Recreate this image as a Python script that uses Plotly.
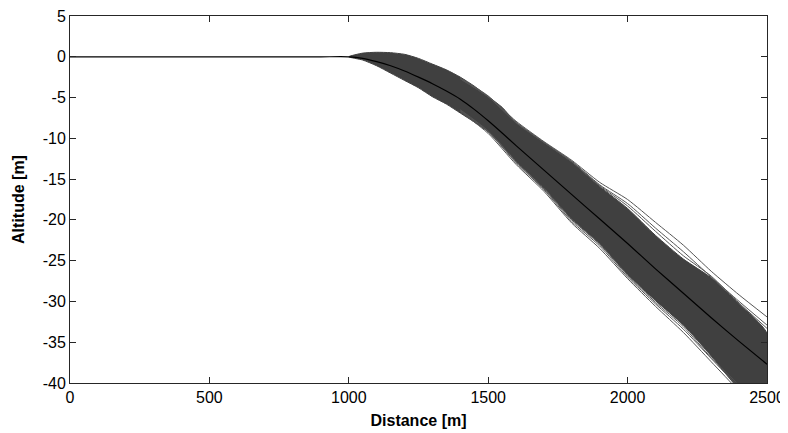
import plotly.graph_objects as go

# ---- data ----
distance = [0, 500, 900, 1000, 1050, 1100, 1150, 1200, 1250, 1300, 1350, 1400, 1450, 1500,
            1550, 1600, 1700, 1800, 1900, 2000, 2100, 2200, 2300, 2400, 2500]
mean_alt = [0, 0, 0, 0, -0.2, -0.6, -1.1, -1.75, -2.5, -3.3, -4.2, -5.2, -6.45, -7.85,
            -9.35, -10.9, -13.9, -16.9, -19.9, -22.9, -26.0, -29.0, -32.0, -34.9, -37.7]

band_dist = [1000, 1050, 1100, 1150, 1200, 1250, 1300, 1350, 1400, 1450, 1500,
             1550, 1600, 1700, 1800, 1900, 2000, 2100, 2200, 2300, 2400, 2500]
upper_alt = [0, 0.45, 0.55, 0.5, 0.3, -0.2, -0.9, -1.6, -2.5, -3.6, -4.9,
             -6.2, -8.1, -10.5, -12.9, -15.9, -18.6, -21.9, -24.8, -27.1, -30.3, -33.9]
lower_alt = [0, -0.4, -1.1, -2.0, -2.9, -3.8, -4.9, -5.8, -6.9, -8.0, -9.2,
             -10.9, -12.8, -16.1, -19.9, -22.9, -26.7, -29.9, -32.9, -36.7, -40.8, -44.0]

out_dist = [1400, 1500, 1600, 1700, 1800, 1900, 2000, 2100, 2200, 2300, 2400, 2500]
upper_out_a = [-2.6, -4.8, -7.9, -10.4, -12.7, -15.4, -17.5, -20.3, -23.1, -26.3, -29.2, -31.9]
upper_out_b = [-2.7, -4.9, -8.0, -10.5, -12.8, -15.7, -18.0, -21.0, -23.9, -27.0, -30.0, -32.9]
upper_out_c = [-2.7, -4.9, -8.1, -10.5, -12.9, -15.8, -18.3, -21.4, -24.4, -26.9, -30.2, -33.3]
lower_out_a = [-6.7, -9.4, -13.2, -16.5, -20.4, -23.5, -27.2, -30.6, -33.8, -37.4, -41.0, -44.5]
lower_out_b = [-6.6, -9.2, -13.0, -16.3, -20.2, -23.2, -27.0, -30.3, -33.4, -37.0, -40.6, -44.2]
lower_out_c = [-6.5, -9.1, -12.9, -16.2, -20.0, -23.0, -26.8, -30.1, -33.1, -36.9, -40.3, -44.0]

x_ticks = [0, 500, 1000, 1500, 2000, 2500]
x_tick_labels = ["0", "500", "1000", "1500", "2000", "2500"]
y_ticks = [5, 0, -5, -10, -15, -20, -25, -30, -35, -40]
y_tick_labels = ["5", "0", "-5", "-10", "-15", "-20", "-25", "-30", "-35", "-40"]

BAND = "#404040"
EDGE = "#555555"
FONT = "Liberation Sans, Arial, sans-serif"

fig = go.Figure()

fig.add_trace(go.Scatter(
    x=band_dist + band_dist[::-1],
    y=upper_alt + lower_alt[::-1],
    fill="toself", fillcolor=BAND, mode="lines",
    line=dict(color=BAND, width=1, shape="spline", smoothing=0.6),
    hoverinfo="skip", showlegend=False))

for ys in (upper_out_a, upper_out_b, upper_out_c, lower_out_a, lower_out_b, lower_out_c):
    fig.add_trace(go.Scatter(x=out_dist, y=ys, mode="lines",
                             line=dict(color=EDGE, width=1, shape="spline", smoothing=0.6),
                             showlegend=False))

fig.add_trace(go.Scatter(x=distance, y=mean_alt, mode="lines",
                         line=dict(color="#000000", width=1.2, shape="spline", smoothing=0.6),
                         showlegend=False))

axis_common = dict(
    showgrid=False, zeroline=False, showline=True, linecolor="#262626", linewidth=1,
    mirror="ticks", ticks="inside", ticklen=6, tickcolor="#262626", tickwidth=1,
    automargin=False, ticklabeloverflow="allow",
    tickfont=dict(family=FONT, size=16, color="#000"),
)

fig.update_xaxes(range=[0, 2500], tickvals=x_ticks, ticktext=x_tick_labels,
                 title=dict(text="<b>Distance [m]</b>", standoff=9,
                            font=dict(family=FONT, size=16, color="#000")),
                 **axis_common)
fig.update_yaxes(range=[-40, 5], tickvals=y_ticks, ticktext=y_tick_labels,
                 title=dict(text="<b>Altitude [m]</b>", standoff=14,
                            font=dict(family=FONT, size=16, color="#000")),
                 **axis_common)

# the page body adds an 8 px offset, so the figure is sized/margined to land
# the plot area at the same pixels as the reference
fig.update_layout(width=780, height=425,
                  margin=dict(l=62, r=21, t=8, b=50),
                  paper_bgcolor="white", plot_bgcolor="white")

fig.write_html("out.html")
